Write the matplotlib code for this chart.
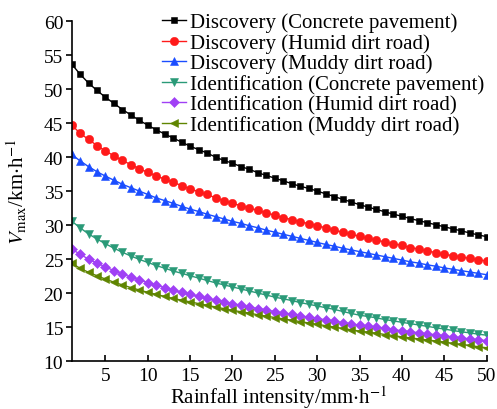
import numpy as np
import matplotlib
matplotlib.use("Agg")
import matplotlib.pyplot as plt

plt.rcParams['font.family'] = ['Liberation Serif', 'DejaVu Serif']
plt.rcParams['mathtext.fontset'] = 'stix'

rain = list(range(1, 51))

disc_concrete = [53.7, 52.2, 50.9, 49.8, 48.8, 47.9, 47.0, 46.2, 45.4, 44.7,
                 44.0, 43.4, 42.8, 42.2, 41.6, 41.1, 40.6, 40.0, 39.5, 39.1,
                 38.6, 38.2, 37.7, 37.3, 36.9, 36.5, 36.1, 35.7, 35.4, 35.0,
                 34.6, 34.2, 33.8, 33.4, 33.0, 32.65, 32.3, 31.95, 31.6, 31.3,
                 30.95, 30.65, 30.35, 30.05, 29.75, 29.45, 29.15, 28.85, 28.55, 28.3]
disc_humid = [44.75, 43.5, 42.6, 41.7, 40.9, 40.2, 39.5, 38.9, 38.3, 37.75,
              37.25, 36.75, 36.3, 35.8, 35.35, 34.9, 34.5, 34.0, 33.6, 33.2,
              32.85, 32.5, 32.15, 31.8, 31.45, 31.1, 30.8, 30.5, 30.2, 29.9,
              29.6, 29.25, 28.95, 28.65, 28.35, 28.05, 27.8, 27.5, 27.25, 27.0,
              26.7, 26.45, 26.2, 25.95, 25.7, 25.5, 25.3, 25.1, 24.9, 24.7]
disc_muddy = [40.4, 39.45, 38.6, 37.85, 37.2, 36.6, 36.0, 35.5, 35.0, 34.5,
              34.0, 33.6, 33.2, 32.75, 32.35, 32.0, 31.6, 31.25, 30.9, 30.55,
              30.25, 29.9, 29.6, 29.25, 28.95, 28.65, 28.35, 28.05, 27.75, 27.45,
              27.15, 26.9, 26.6, 26.35, 26.1, 25.85, 25.6, 25.35, 25.1, 24.85,
              24.6, 24.4, 24.15, 23.95, 23.7, 23.5, 23.3, 23.1, 22.9, 22.7]
iden_concrete = [30.6, 29.6, 28.7, 27.95, 27.25, 26.6, 26.0, 25.45, 24.95, 24.5,
                 24.05, 23.65, 23.25, 22.9, 22.55, 22.2, 21.85, 21.5, 21.2, 20.9,
                 20.6, 20.3, 20.0, 19.7, 19.4, 19.15, 18.9, 18.6, 18.35, 18.1,
                 17.85, 17.6, 17.3, 17.0, 16.75, 16.55, 16.35, 16.1, 15.9, 15.7,
                 15.5, 15.3, 15.1, 14.9, 14.7, 14.5, 14.3, 14.15, 13.95, 13.8]
iden_humid = [26.5, 25.7, 25.0, 24.4, 23.85, 23.3, 22.8, 22.35, 21.95, 21.55,
              21.15, 20.8, 20.45, 20.1, 19.8, 19.5, 19.2, 18.95, 18.7, 18.45,
              18.2, 17.95, 17.7, 17.5, 17.25, 17.05, 16.85, 16.65, 16.45, 16.25,
              16.05, 15.85, 15.65, 15.45, 15.25, 15.1, 14.95, 14.8, 14.6, 14.45,
              14.3, 14.15, 14.0, 13.85, 13.7, 13.55, 13.4, 13.25, 13.1, 13.0]
iden_muddy = [24.4, 23.65, 23.05, 22.55, 22.05, 21.6, 21.2, 20.8, 20.45, 20.1,
              19.8, 19.5, 19.2, 18.95, 18.7, 18.45, 18.2, 17.95, 17.7, 17.45,
              17.25, 17.05, 16.8, 16.6, 16.4, 16.2, 16.0, 15.8, 15.6, 15.4,
              15.2, 15.0, 14.8, 14.6, 14.4, 14.25, 14.1, 13.9, 13.75, 13.55,
              13.4, 13.25, 13.1, 12.95, 12.8, 12.6, 12.45, 12.3, 12.1, 11.95]

labels = ['Discovery (Concrete pavement)', 'Discovery (Humid dirt road)',
          'Discovery (Muddy dirt road)', 'Identification (Concrete pavement)',
          'Identification (Humid dirt road)', 'Identification (Muddy dirt road)']
series = [disc_concrete, disc_humid, disc_muddy, iden_concrete, iden_humid, iden_muddy]
colors = ['#000000', '#ff1a1a', '#1a4dff', '#2a9a78', '#a040f5', '#5f8500']
markers = ['s', 'o', '^', 'v', 'D', '<']
msizes = [5, 6, 6, 6, 5, 6]

fig = plt.figure(figsize=(4.97, 4.10), dpi=100)
ax = fig.add_axes([0.144, 0.117, 0.835, 0.829])

for y, lab, c, m, ms in zip(series, labels, colors, markers, msizes):
    ax.plot(rain, y, color=c, marker=m, markersize=ms, lw=1, label=lab,
            markeredgecolor=c, markeredgewidth=0.4)

ax.set_xlim(1, 50)
ax.set_ylim(10, 60)
ax.set_xticks(range(5, 51, 5))
ax.set_yticks(range(10, 61, 5))
ax.spines['top'].set_visible(False)
ax.spines['right'].set_visible(False)
ax.spines['left'].set_linewidth(1.2)
ax.spines['bottom'].set_linewidth(1.2)
ax.tick_params(axis='x', direction='in', length=4, width=1.2, labelsize=14, pad=4)
ax.tick_params(axis='y', direction='out', length=4, width=1.2, labelsize=14, pad=2)

ax.set_xlabel(r'Rainfall intensity/mm$\cdot$h$^{-1}$', fontsize=15, labelpad=0)
ax.set_ylabel(r'$V_{\mathrm{max}}$/km$\cdot$h$^{-1}$', fontsize=15)
ax.yaxis.set_label_coords(-0.103, 0.5)

ax.legend(loc='upper left', bbox_to_anchor=(0.322, 0.972), bbox_transform=fig.transFigure,
          frameon=False, fontsize=15, handlelength=1.15, handletextpad=0.2,
          labelspacing=0.04, borderaxespad=0.0, borderpad=0.1)

fig.savefig('out.png', dpi=100)
